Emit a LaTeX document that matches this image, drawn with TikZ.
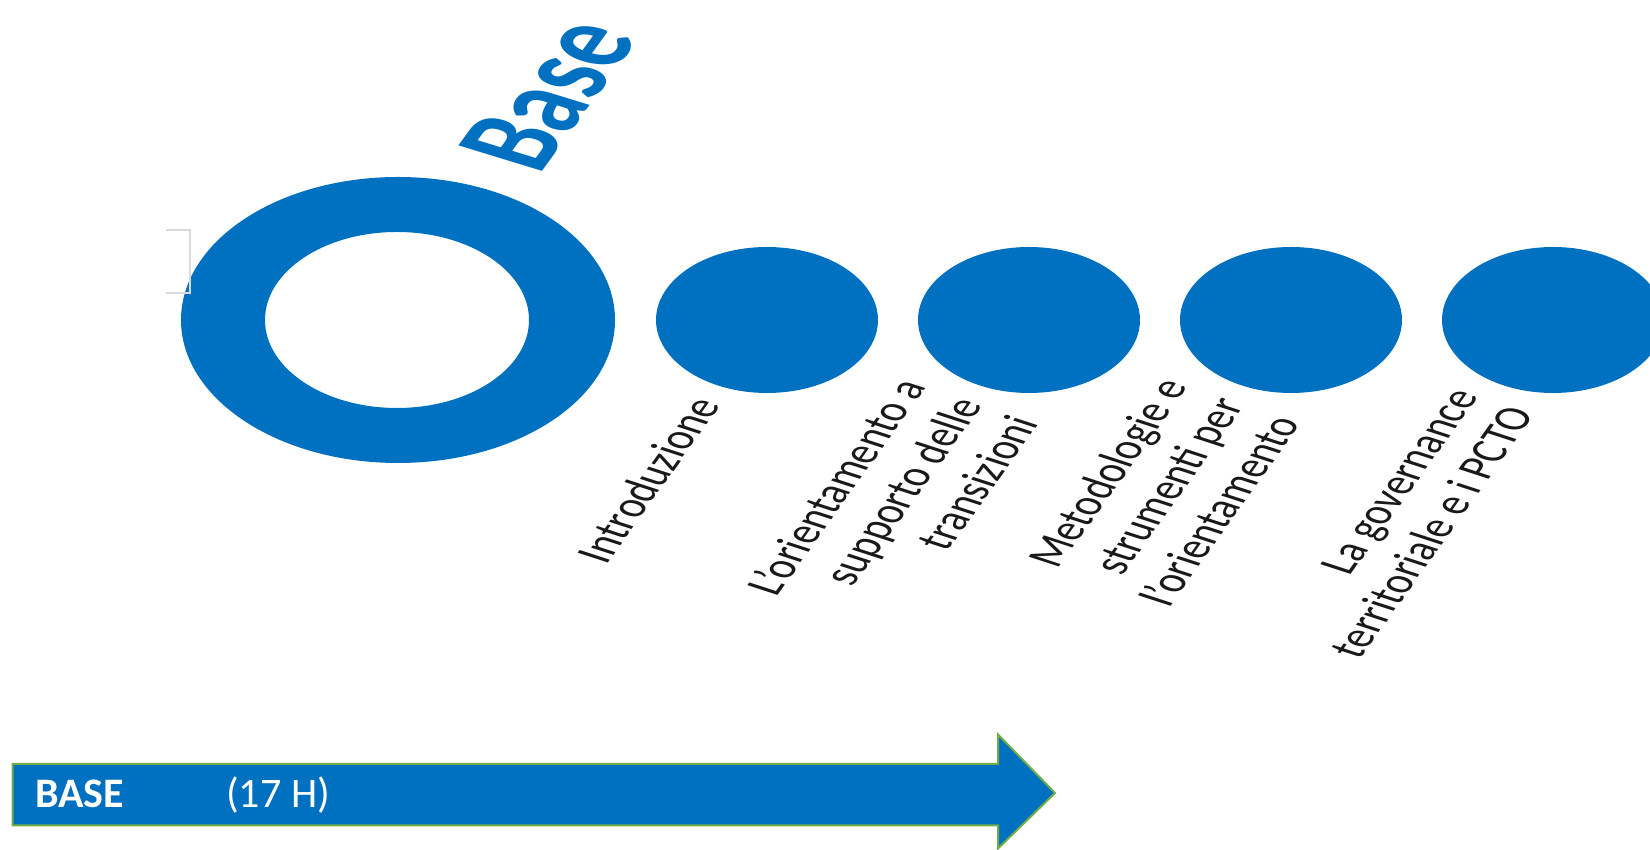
\documentclass[tikz,border=0pt]{standalone}
\usepackage{fontspec}
\setmainfont{Carlito}
\usetikzlibrary{shapes.geometric}
\definecolor{sablue}{HTML}{0070C0}
\definecolor{sagreen}{HTML}{70AD47}
\definecolor{sagray}{HTML}{D9D9D9}
\begin{document}
\begin{tikzpicture}[x=1pt,y=1pt,
  blob/.style={ellipse, fill=sablue, minimum width=222pt, minimum height=146pt, inner sep=0pt},
  lbl/.style={anchor=east, align=right, inner sep=0pt, cm={0.581,0.814,-1.236,0.402,(0,0)}, font=\fontsize{38}{45.5}\selectfont, text=black!90},
  ttl/.style={anchor=base west, inner sep=0pt, text=sablue, font=\fontsize{87}{100}\selectfont\bfseries, cm={0.588,0.809,-1.482,0.453,(0,0)}},
  arrtxt/.style={anchor=base west, inner sep=0pt, text=white}
  ]
\useasboundingbox (0,0) rectangle (1650,850);
\clip (0,0) rectangle (1650,850);
% ring
\fill[sablue, even odd rule] (398,530) ellipse [x radius=217, y radius=143] (397,530) ellipse [x radius=132, y radius=88];
\coordinate (ring) at (398,530);
\draw[sagray, line width=2pt] (166,620) -- (190,620) -- (190,557) -- (166,557);
% title
\node[ttl] (title) at (539,674) {Base};
% steps
\node[blob] (e1) at (767,530) {};
\node[blob] (e2) at (1029,530) {};
\node[blob] (e3) at (1291,530) {};
\node[blob] (e4) at (1553,530) {};
% labels
\node[lbl] (l1) at (710,449) {\strut Introduzione};
\node[lbl] (l2) at (972,449) {\strut L'orientamento a\\\strut supporto delle\\\strut transizioni};
\node[lbl] (l3) at (1234,449) {\strut Metodologie e\\\strut strumenti per\\\strut l'orientamento};
\node[lbl] (l4) at (1496,449) {\strut La governance\\\strut territoriale e i PCTO};
% bottom arrow
\draw[sagreen, line width=2pt, fill=sablue, line join=miter] (12.6,86) -- (998,86) -- (998,115.5) -- (1055,57) -- (998,1.5) -- (998,24.5) -- (12.6,24.5) -- cycle;
\node[arrtxt, font=\fontsize{42}{50}\selectfont\bfseries] (tb) at (35,42) {BASE};
\node[arrtxt, font=\fontsize{42}{50}\selectfont] (th) at (226,42) {(17 H)};
\end{tikzpicture}
\end{document}
